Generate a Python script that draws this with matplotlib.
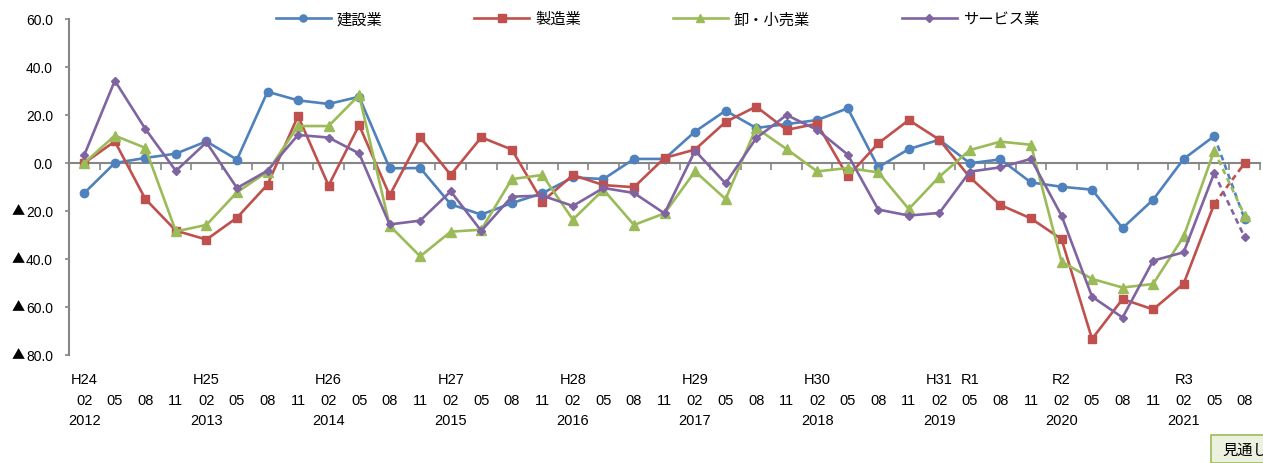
import numpy as np
import matplotlib
matplotlib.use("Agg")
import matplotlib.pyplot as plt
from matplotlib.lines import Line2D
from matplotlib.patches import Rectangle
from matplotlib.transforms import blended_transform_factory

plt.rcParams['font.family'] = ['Liberation Sans', 'Noto Sans CJK JP', 'DejaVu Sans']

# Quarterly survey periods, Feb 2012 - Aug 2021
months = ["02", "05", "08", "11"] * 9 + ["02", "05", "08"]
era_labels = {0: "H24", 4: "H25", 8: "H26", 12: "H27", 16: "H28", 20: "H29",
              24: "H30", 28: "H31", 29: "R1", 32: "R2", 36: "R3"}
year_labels = {0: "2012", 4: "2013", 8: "2014", 12: "2015", 16: "2016",
               20: "2017", 24: "2018", 28: "2019", 32: "2020", 36: "2021"}

series_names = ["建設業", "製造業", "卸・小売業", "サービス業"]

construction = [-12.5, 0.0, 2.1, 3.9, 9.0, 1.4, 29.7, 26.1, 24.6, 27.6,
                -2.2, -2.1, -17.2, -21.5, -16.7, -12.6, -6.0, -6.7, 1.7, 1.7,
                13.1, 21.8, 14.6, 16.2, 17.9, 22.8, -1.8, 5.8, 9.7, -0.1,
                1.5, -8.1, -9.9, -11.1, -27.1, -15.3, 1.7, 11.2, -23.5]
manufacturing = [0.0, 9.0, -15.0, -28.2, -31.9, -22.8, -9.0, 19.6, -9.4, 15.8,
                 -13.5, 10.7, -4.9, 10.7, 5.6, -16.1, -5.0, -9.2, -10.1, 2.1,
                 5.6, 17.1, 23.5, 13.8, 16.4, -5.6, 8.2, 17.9, 9.7, -6.0,
                 -17.5, -23.1, -31.7, -73.3, -56.7, -61.0, -50.3, -17.1, 0.0]
wholesale_retail = [0.0, 11.4, 6.3, -28.5, -25.8, -12.2, -3.6, 15.4, 15.4, 28.3,
                    -26.1, -38.9, -28.6, -27.8, -6.7, -5.0, -23.6, -11.1, -25.8, -21.0,
                    -3.5, -15.0, 14.6, 5.8, -3.5, -2.1, -3.9, -19.2, -5.7, 5.4,
                    8.9, 7.6, -41.1, -48.3, -51.9, -50.4, -30.6, 5.1, -21.9]
services = [3.3, 34.3, 14.2, -3.3, 8.6, -10.4, -3.2, 11.7, 10.6, 4.0,
            -25.6, -24.0, -11.8, -28.3, -14.0, -13.6, -17.9, -10.4, -12.5, -21.0,
            5.1, -8.5, 10.3, 20.0, 13.8, 3.5, -19.4, -21.9, -20.8, -3.6,
            -1.8, 1.7, -21.9, -55.7, -64.4, -40.7, -37.2, -4.2, -31.0]

y_ticks = [60, 40, 20, 0, -20, -40, -60, -80]

colors = ["#4F81BD", "#C0504D", "#9BBB59", "#8064A2"]
markers = ["o", "s", "^", "D"]
msizes = [6.0, 6.0, 6.5, 4.5]

fig = plt.figure(figsize=(12.63, 4.64), dpi=100)
ax = fig.add_axes([69 / 1263, 1 - 356 / 464, (1260 - 69) / 1263, 336 / 464])

x = np.arange(len(months))
n_actual = len(months) - 1  # last period is a forecast

for vals, c, m, ms in zip([construction, manufacturing, wholesale_retail, services],
                          colors, markers, msizes):
    v = np.array(vals)
    ax.plot(x[:n_actual], v[:n_actual], color=c, lw=1.9, marker=m, ms=ms,
            markeredgecolor=c, zorder=3)
    ax.plot(x[n_actual - 1:], v[n_actual - 1:], color=c, lw=1.9, ls=(0, (2.2, 1.6)),
            zorder=3)
    ax.plot(x[-1:], v[-1:], color=c, marker=m, ms=ms, markeredgecolor=c, ls="none",
            zorder=4)

ax.set_xlim(-0.5, len(months) - 0.5)
ax.set_ylim(-80, 60)

for s in ["top", "right"]:
    ax.spines[s].set_visible(False)
ax.spines["left"].set_color("#868686")
ax.spines["left"].set_linewidth(1.5)
ax.spines["bottom"].set_position(("data", 0))
ax.spines["bottom"].set_color("#868686")
ax.spines["bottom"].set_linewidth(1.5)

# Negative values are written with a leading ▲ mark
ax.set_yticks(y_ticks)
ax.set_yticklabels([f"{abs(v):.1f}" for v in y_ticks], fontsize=10)
ax.tick_params(axis="y", length=3, width=1.2, color="#868686", pad=8.5, direction="out")
ytr = blended_transform_factory(ax.transAxes, ax.transData)
for v in y_ticks:
    if v < 0:
        ax.text(-0.0428, v, "▲", transform=ytr, ha="center", va="center",
                fontsize=9.5, family=["Noto Sans CJK JP", "DejaVu Sans"])

ax.set_xticks(np.arange(-0.5, len(months), 1.0))
ax.set_xticklabels([])
ax.tick_params(axis="x", length=5, width=1.2, color="#868686", direction="out")

tr = ax.get_xaxis_transform()
for i, mth in enumerate(months):
    ax.text(i, -0.134, mth, transform=tr, ha="center", va="center", fontsize=10.5)
for i, lab in era_labels.items():
    ax.text(i, -0.072, lab, transform=tr, ha="center", va="center", fontsize=10.5)
for i, lab in year_labels.items():
    ax.text(i, -0.193, lab, transform=tr, ha="center", va="center", fontsize=10.5)

handles = [Line2D([0], [0], color=c, lw=1.9, marker=m, ms=ms * 0.85)
           for c, m, ms in zip(colors, markers, msizes)]
ax.legend(handles, series_names, loc="center", bbox_to_anchor=(0.494, 1.0),
          ncol=4, frameon=False, fontsize=11, handlelength=3.6,
          handletextpad=0.4, columnspacing=6.0)

# Forecast tag in the lower-right corner
fig.patches.append(Rectangle((1211 / 1263, 0), 0.1, 28 / 464, transform=fig.transFigure,
                             facecolor="#EBF1DE", edgecolor="#9BBB59", lw=1.2,
                             figure=fig))
fig.text(1222 / 1263, 13 / 464, "見通し", fontsize=11, ha="left", va="center")

fig.savefig("out.png", dpi=100)
